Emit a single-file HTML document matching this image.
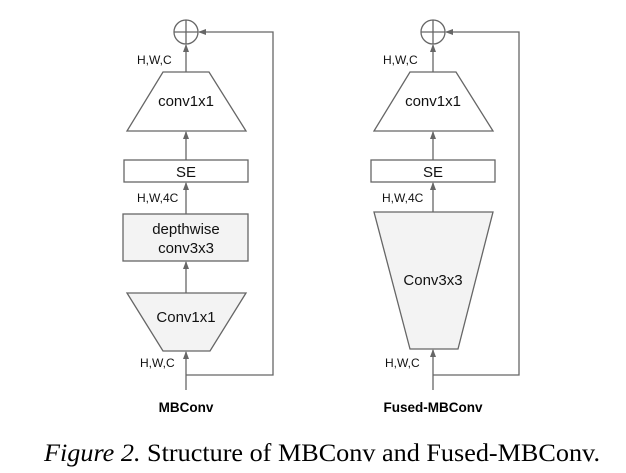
<!DOCTYPE html>
<html><head><style>
body{margin:0;background:#fff;width:626px;height:473px;overflow:hidden}
svg{display:block}
.t{font-family:"Liberation Sans",sans-serif;font-size:15px;fill:#111}
.s{font-family:"Liberation Sans",sans-serif;font-size:12px;fill:#111}
.b{font-family:"Liberation Sans",sans-serif;font-size:13.5px;font-weight:bold;fill:#000}
</style></head><body>
<svg width="626" height="473" viewBox="0 0 626 473">
<defs><marker id="a" markerWidth="8" markerHeight="8" refX="7" refY="4" orient="auto" markerUnits="userSpaceOnUse"><path d="M0,1 L8,4 L0,7 z" fill="#666"/></marker></defs>
<g stroke="#666" stroke-width="1.3" fill="none">
<circle cx="186" cy="32" r="12"/><line x1="174" y1="32" x2="198" y2="32"/><line x1="186" y1="20" x2="186" y2="44"/>
<polygon points="163,72 209,72 246,131 127,131" fill="#fff"/>
<rect x="124" y="160" width="124" height="22" fill="#fff"/>
<rect x="123" y="214" width="125" height="47" fill="#f3f3f3"/>
<polygon points="127,293 246,293 210,351 163,351" fill="#f3f3f3"/>
<line x1="186" y1="72" x2="186" y2="45" marker-end="url(#a)"/>
<line x1="186" y1="160" x2="186" y2="132" marker-end="url(#a)"/>
<line x1="186" y1="214" x2="186" y2="183" marker-end="url(#a)"/>
<line x1="186" y1="293" x2="186" y2="262" marker-end="url(#a)"/>
<line x1="186" y1="390" x2="186" y2="352" marker-end="url(#a)"/>
<polyline points="186,375 273,375 273,32 199,32" marker-end="url(#a)"/>
<circle cx="433" cy="32" r="12"/><line x1="421" y1="32" x2="445" y2="32"/><line x1="433" y1="20" x2="433" y2="44"/>
<polygon points="410,72 456,72 493,131 374,131" fill="#fff"/>
<rect x="371" y="160" width="124" height="22" fill="#fff"/>
<polygon points="374,212 493,212 458,349 410,349" fill="#f3f3f3"/>
<line x1="433" y1="72" x2="433" y2="45" marker-end="url(#a)"/>
<line x1="433" y1="160" x2="433" y2="132" marker-end="url(#a)"/>
<line x1="433" y1="212" x2="433" y2="183" marker-end="url(#a)"/>
<line x1="433" y1="390" x2="433" y2="350" marker-end="url(#a)"/>
<polyline points="433,375 519,375 519,32 446,32" marker-end="url(#a)"/>
</g>
<text class="s" x="137" y="64">H,W,C</text>
<text class="t" x="186" y="106" text-anchor="middle">conv1x1</text>
<text class="t" x="186" y="177" text-anchor="middle">SE</text>
<text class="s" x="137" y="202">H,W,4C</text>
<text class="t" x="186" y="234" text-anchor="middle">depthwise</text>
<text class="t" x="186" y="253" text-anchor="middle">conv3x3</text>
<text class="t" x="186" y="322" text-anchor="middle">Conv1x1</text>
<text class="s" x="140" y="367">H,W,C</text>
<text class="b" x="186" y="412" text-anchor="middle">MBConv</text>
<text class="s" x="383" y="64">H,W,C</text>
<text class="t" x="433" y="106" text-anchor="middle">conv1x1</text>
<text class="t" x="433" y="177" text-anchor="middle">SE</text>
<text class="s" x="382" y="202">H,W,4C</text>
<text class="t" x="433" y="285" text-anchor="middle">Conv3x3</text>
<text class="s" x="385" y="367">H,W,C</text>
<text class="b" x="433" y="412" text-anchor="middle">Fused-MBConv</text>
<text x="44" y="461" font-family="Liberation Serif,serif" font-size="25" fill="#000" textLength="556" lengthAdjust="spacingAndGlyphs"><tspan font-style="italic">Figure 2.</tspan> Structure of MBConv and Fused-MBConv.</text>
</svg>
</body></html>
